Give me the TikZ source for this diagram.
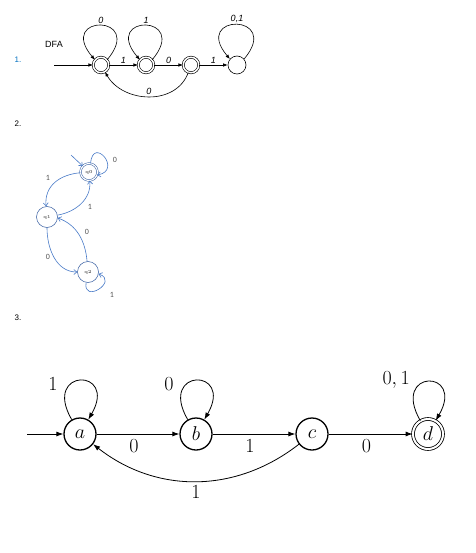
\RequirePackage{fix-cm}
\documentclass[tikz,border=0pt]{standalone}
\usepackage{fontspec}
\usepackage{xcolor}
\usepackage{tikz}
\usetikzlibrary{arrows.meta}
\newfontfamily\arialfont{Liberation Sans}
\newfontfamily\calibrifont{Carlito}
\definecolor{numblue}{RGB}{0,112,192}
\definecolor{edgeblue}{RGB}{72,122,200}
\definecolor{ringblue}{RGB}{52,92,160}
\definecolor{labelgray}{RGB}{85,85,85}

\begin{document}
\begin{tikzpicture}[x=1pt, y=1pt,
    dfa_state/.style={draw, circle, line width=0.6pt, minimum size=18pt, inner sep=0pt},
    dfa_final/.style={dfa_state, minimum size=15.5pt, double, double distance=1.5pt},
    dfa_edge/.style={-{Latex[length=4.5pt,width=3.5pt]}, line width=0.6pt},
    dfa_label/.style={font=\fontsize{9}{10}\selectfont\arialfont\itshape, inner sep=1.5pt},
    blue_state/.style={draw=ringblue, circle, line width=0.5pt, minimum size=21pt, inner sep=0pt,
        font=\fontsize{4.5}{5}\selectfont\bfseries, text=labelgray},
    blue_final/.style={blue_state, minimum size=17pt, double, double distance=1.2pt},
    blue_edge/.style={-{Straight Barb[length=3pt,width=5pt]}, draw=edgeblue, line width=0.6pt},
    blue_label/.style={font=\fontsize{8}{9}\selectfont\calibrifont, text=labelgray},
    big_state/.style={draw, circle, line width=1.3pt, minimum size=32pt, inner sep=0pt,
        font=\fontsize{20}{24}\selectfont},
    big_final/.style={big_state, line width=0.8pt, minimum size=30pt, double, double distance=2pt},
    big_edge/.style={-{Latex[length=7pt,width=5pt]}, line width=0.8pt},
    big_label/.style={font=\fontsize{20}{24}\selectfont},
    list_num/.style={font=\fontsize{8}{9}\selectfont\arialfont, inner sep=0pt}]

    \fill[white] (0,0) rectangle (475,-553);
    \useasboundingbox (0,0) rectangle (475,-553);

    % Numbers
    \node[list_num, text=numblue] (num_one) at (18,-60) {1.};
    \node[list_num] (num_two) at (18,-124) {2.};
    \node[list_num] (num_three) at (18,-318) {3.};

    % Part 1
    \node[font=\fontsize{9}{10}\selectfont\arialfont] (dfa_title) at (54,-44) {DFA};
    \node (dfa_s1) [dfa_final] at (101,-65) {};
    \node (dfa_s2) [dfa_final, right of=dfa_s1, node distance=45pt] {};
    \node (dfa_s3) [dfa_final, right of=dfa_s2, node distance=45pt] {};
    \node (dfa_s4) [dfa_state, right of=dfa_s3, node distance=46pt] {};
    \coordinate (dfa_start) at (54,-65);

    \draw[dfa_edge] (dfa_start) -- (dfa_s1);
    \draw[dfa_edge] (dfa_s1) -- node[dfa_label, above] {1} (dfa_s2);
    \draw[dfa_edge] (dfa_s2) -- node[dfa_label, above] {0} (dfa_s3);
    \draw[dfa_edge] (dfa_s3) -- node[dfa_label, above] {1} (dfa_s4);
    \draw[dfa_edge] (dfa_s1.40) .. controls +(50:60pt) and +(130:60pt) .. node[dfa_label, above] {0} (dfa_s1.140);
    \draw[dfa_edge] (dfa_s2.40) .. controls +(50:60pt) and +(130:60pt) .. node[dfa_label, above] {1} (dfa_s2.140);
    \draw[dfa_edge] (dfa_s4.40) .. controls +(50:60pt) and +(130:60pt) .. node[dfa_label, above] {0,1} (dfa_s4.140);
    \draw[dfa_edge] (dfa_s3) to[out=-110, in=-60, looseness=1.1] node[dfa_label, above] {0} (dfa_s1);

    % Part 2
    \node (part2_q0) [blue_final] at (89,-172) {q0};
    \node (part2_q1) [blue_state] at (47,-217) {q1};
    \node (part2_q2) [blue_state] at (88,-272) {q2};
    \coordinate (part2_start) at (71,-155);

    \draw[blue_edge] (part2_start) -- (part2_q0);
    \draw[blue_edge] (part2_q0) to[out=185, in=95, looseness=1.1] (part2_q1);
    \draw[blue_edge] (part2_q1.10) to[out=10, in=-85] (part2_q0);
    \draw[blue_edge] (part2_q2) to[out=95, in=-20] (part2_q1.-5);
    \draw[blue_edge] (part2_q1) to[out=-90, in=180] (part2_q2);
    \draw[blue_edge] (part2_q0.80) .. controls +(85:28pt) and +(10:26pt) .. (part2_q0.-20);
    \draw[blue_edge] (part2_q2.-100) .. controls +(-100:22pt) and +(-20:22pt) .. (part2_q2.-10);

    \node[blue_label] (lbl_q0q1) at (48,-178) {1};
    \node[blue_label] (lbl_q1q0) at (90,-207) {1};
    \node[blue_label] (lbl_q2q1) at (87,-232) {0};
    \node[blue_label] (lbl_q1q2) at (48,-257) {0};
    \node[blue_label] (lbl_q0q0) at (115,-160) {0};
    \node[blue_label] (lbl_q2q2) at (112,-295) {1};

    % Part 3
    \node (a) [big_state] at (80,-434) {$a$};
    \node (b) [big_state, right of=a, node distance=116pt] {$b$};
    \node (c) [big_state, right of=b, node distance=116pt] {$c$};
    \node (d) [big_final, right of=c, node distance=116pt] {$d$};
    \coordinate (a_start) at (27,-434);

    \draw[big_edge] (a_start) -- (a);
    \draw[big_edge] (a) -- node[big_label, below=2pt, pos=0.45] {0} (b);
    \draw[big_edge] (b) -- node[big_label, below=2pt, pos=0.45] {1} (c);
    \draw[big_edge] (c) -- node[big_label, below=2pt, pos=0.45] {0} (d);
    \draw[big_edge] (c) to[bend left=38] node[big_label, below] {1} (a);
    \draw[big_edge] (a.120) .. controls +(120:60pt) and +(60:60pt) .. node[big_label, pos=0.35, left=9pt] {1} (a.60);
    \draw[big_edge] (b.120) .. controls +(120:60pt) and +(60:60pt) .. node[big_label, pos=0.35, left=9pt] {0} (b.60);
    \draw[big_edge] (d.120) .. controls +(120:60pt) and +(60:60pt) .. node[big_label, pos=0.4, left=8pt, yshift=3pt] {$0, 1$} (d.60);
\end{tikzpicture}
\end{document}
